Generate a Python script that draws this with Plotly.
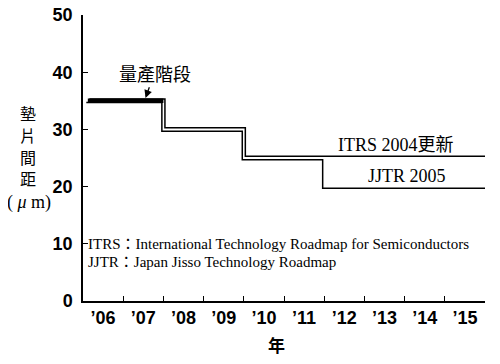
import plotly.graph_objects as go

# ---- data ----
year_labels = ["’06", "’07", "’08", "’09", "’10", "’11", "’12", "’13", "’14", "’15"]
label_pos = [2006.5, 2007.5, 2008.5, 2009.5, 2010.5, 2011.5, 2012.5, 2013.5, 2014.5, 2015.5]
tick_years = [2007, 2008, 2009, 2010, 2011, 2012, 2013, 2014, 2015, 2016]
y_ticks = [0, 10, 20, 30, 40, 50]
y_title_chars = ["墊", "片", "間", "距"]

mass_x = [2006.12, 2008.0]
mass_values = [35, 35]

itrs_x = [2006.12, 2008.0, 2010.0, 2016.0]
itrs_values = [35, 30, 25, 25]

jjtr_x = [2006.12, 2008.0, 2010.0, 2012.0, 2016.0]
jjtr_values = [35, 30, 25, 20, 20]

# visual separation of the double line (style only)
DX, DY = 0.038, 0.31

SERIF = "Liberation Serif, Times New Roman, Noto Sans CJK TC, serif"
SANS = "Liberation Sans, Arial, Helvetica, sans-serif"
CJK = "Noto Sans CJK TC, sans-serif"

# page body has an 8px default margin; the figure is sized to fill the rest
W, H = 492, 356
L, R, T, B = 75, 15, 7, 63
PW = W - L - R
PH = H - T - B


def px(xp):
    return (xp - 8 - L) / PW


def py(yp):
    return (H - B - (yp - 8)) / PH


fig = go.Figure()

fig.add_trace(go.Scatter(
    x=[v + DX for v in itrs_x[:-1]] + [itrs_x[-1]],
    y=[v + DY for v in itrs_values],
    mode="lines", line=dict(color="black", width=1.5, shape="hv"),
    showlegend=False, hoverinfo="skip"))

fig.add_trace(go.Scatter(
    x=[v - DX for v in jjtr_x[:-1]] + [jjtr_x[-1]],
    y=[v - DY for v in jjtr_values],
    mode="lines", line=dict(color="black", width=1.5, shape="hv"),
    showlegend=False, hoverinfo="skip"))

fig.add_trace(go.Scatter(
    x=mass_x, y=mass_values,
    mode="lines", line=dict(color="black", width=4.5),
    showlegend=False, hoverinfo="skip"))

# invisible trace to activate overlay axis for tick marks
fig.add_trace(go.Scatter(x=[2006, 2016], y=[0, 0], xaxis="x2", mode="lines",
                         line=dict(color="rgba(0,0,0,0)"), showlegend=False, hoverinfo="skip"))

annotations = [
    dict(text="量產階段", x=2007.53, y=35, xref="x", yref="y",
         ax=10, ay=-28, showarrow=True, arrowhead=2, arrowsize=1.2, arrowwidth=1.3,
         arrowcolor="black", standoff=3,
         font=dict(family=CJK, size=18, color="black")),
    dict(text="ITRS 2004更新", x=2013.78, y=27.2, xref="x", yref="y", showarrow=False,
         font=dict(family=SERIF, size=18, color="black")),
    dict(text="JJTR 2005", x=2014.05, y=21.9, xref="x", yref="y", showarrow=False,
         font=dict(family=SERIF, size=18, color="black")),
    dict(text="ITRS：International Technology Roadmap for Semiconductors",
         x=2006.07, y=10.0, xref="x", yref="y", xanchor="left", showarrow=False,
         font=dict(family=SERIF, size=15, color="black")),
    dict(text="JJTR：Japan Jisso Technology Roadmap",
         x=2006.07, y=6.84, xref="x", yref="y", xanchor="left", showarrow=False,
         font=dict(family=SERIF, size=15, color="black")),
    dict(text="年", x=px(276), y=py(344), xref="paper", yref="paper",
         xanchor="center", yanchor="middle",
         showarrow=False, font=dict(family=CJK, size=17, color="black", weight="bold")),
    dict(text="( <i>μ</i> m)", x=px(29), y=py(202), xref="paper", yref="paper",
         xanchor="center", yanchor="middle", borderpad=0,
         showarrow=False, font=dict(family=SERIF, size=18, color="black")),
]
for i, ch in enumerate(y_title_chars):
    annotations.append(dict(text=ch, x=px(28), y=py(113 + 21.8 * i), xref="paper", yref="paper",
                            xanchor="center", yanchor="middle", showarrow=False, borderpad=0,
                            font=dict(family=CJK, size=16, color="black")))

fig.update_layout(
    template="none",
    width=W, height=H,
    margin=dict(l=L, r=R, t=T, b=B, autoexpand=False),
    plot_bgcolor="white", paper_bgcolor="white",
    annotations=annotations,
    xaxis=dict(range=[2006, 2016], tickvals=label_pos, ticktext=year_labels,
               ticks="", showline=True, linecolor="black", linewidth=1.5, showgrid=False,
               zeroline=False, automargin=False, ticklabeloverflow="allow",
               tickfont=dict(family=SANS, size=18, color="black", weight="bold")),
    xaxis2=dict(range=[2006, 2016], overlaying="x", anchor="y", side="bottom",
                tickvals=tick_years, ticks="inside", ticklen=5, tickcolor="black",
                tickwidth=1.2, showticklabels=False, showgrid=False, zeroline=False,
                showline=False, automargin=False),
    yaxis=dict(range=[0, 50], tickvals=y_ticks, ticks="inside", ticklen=5,
               tickcolor="black", tickwidth=1.2, ticklabelstandoff=5,
               ticklabeloverflow="allow",
               showline=True, linecolor="black", linewidth=1.5, showgrid=False,
               zeroline=False, automargin=False,
               tickfont=dict(family=SANS, size=18, color="black", weight="bold")),
)

fig.write_html("out.html")
